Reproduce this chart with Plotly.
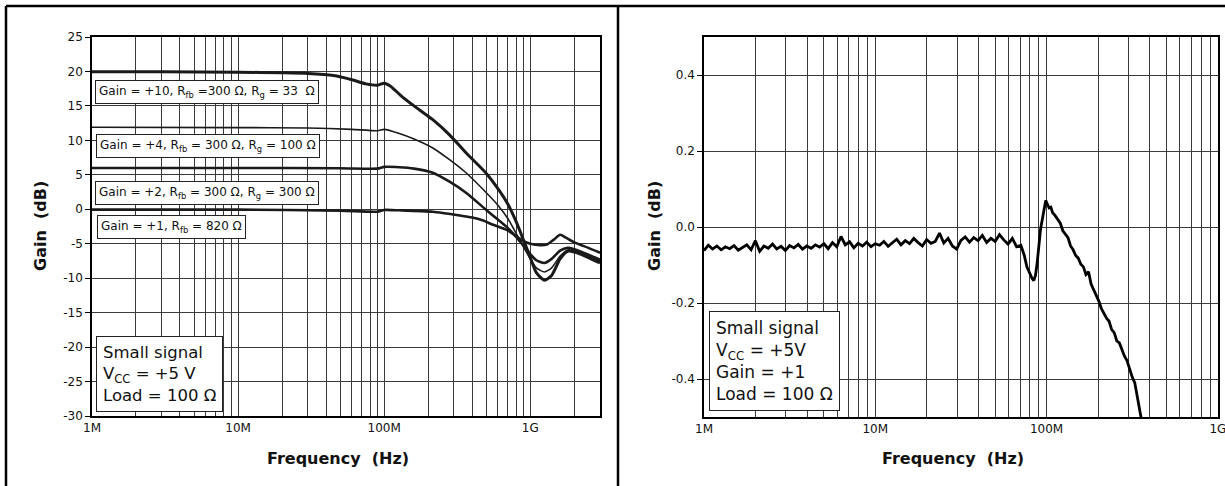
import plotly.graph_objects as go

# ---------------- Left chart data (frequency in Hz, gain in dB) ----------------
G10_F = [1e6, 3e6, 10e6, 20e6, 30e6, 45e6, 60e6, 75e6, 90e6, 100e6, 110e6, 130e6, 160e6,
         215e6, 280e6, 363e6, 500e6, 600e6, 700e6, 800e6, 900e6, 1.0e9, 1.1e9, 1.25e9,
         1.4e9, 1.6e9, 1.8e9, 2.0e9, 2.5e9, 3.0e9]
G10_DB = [19.95, 19.95, 19.9, 19.8, 19.7, 19.4, 18.8, 18.2, 18.0, 18.3, 17.9, 16.5, 15.0,
          13.0, 10.8, 8.2, 5.2, 3.0, 0.8, -1.8, -4.5, -7.0, -9.2, -10.3,
          -9.6, -7.2, -6.1, -6.2, -7.0, -7.8]

G4_F = [1e6, 10e6, 30e6, 60e6, 90e6, 100e6, 127e6, 160e6, 215e6, 280e6, 363e6, 500e6,
        600e6, 700e6, 800e6, 900e6, 1.0e9, 1.1e9, 1.25e9, 1.4e9, 1.6e9, 1.8e9, 2.0e9,
        2.5e9, 3.0e9]
G4_DB = [11.9, 11.85, 11.8, 11.6, 11.4, 11.6, 11.0, 10.2, 8.9, 7.2, 5.3, 2.4,
         0.6, -1.3, -3.5, -5.5, -7.2, -8.5, -9.1, -8.5, -6.8, -5.9, -6.0,
         -6.8, -7.5]

G2_F = [1e6, 10e6, 50e6, 90e6, 100e6, 127e6, 160e6, 215e6, 280e6, 363e6, 500e6, 600e6,
        700e6, 800e6, 900e6, 1.0e9, 1.1e9, 1.25e9, 1.4e9, 1.6e9, 1.8e9, 2.0e9, 2.5e9, 3.0e9]
G2_DB = [6.0, 6.0, 5.95, 5.9, 6.15, 6.1, 5.9, 5.3, 4.0, 2.4, -0.1, -1.5,
         -2.7, -4.0, -5.3, -6.5, -7.4, -7.8, -7.2, -6.0, -5.6, -5.8, -6.6, -7.3]

G1_F = [1e6, 10e6, 50e6, 90e6, 100e6, 127e6, 215e6, 330e6, 400e6, 470e6, 550e6, 690e6,
        800e6, 880e6, 1.0e9, 1.17e9, 1.3e9, 1.45e9, 1.6e9, 1.75e9, 2.0e9, 2.5e9, 3.0e9]
G1_DB = [-0.05, -0.05, -0.2, -0.35, -0.1, -0.15, -0.35, -0.9, -1.2, -1.6, -2.2, -3.0,
         -3.9, -4.5, -5.0, -5.2, -5.1, -4.4, -3.7, -4.1, -4.8, -5.6, -6.3]

LEFT_LABELS = [
    "Gain = +10, R<sub>fb</sub> =300 Ω, R<sub>g</sub> = 33  Ω",
    "Gain = +4, R<sub>fb</sub> = 300 Ω, R<sub>g</sub> = 100 Ω",
    "Gain = +2, R<sub>fb</sub> = 300 Ω, R<sub>g</sub> = 300 Ω",
    "Gain = +1, R<sub>fb</sub> = 820 Ω",
]
LEFT_NOTE = "Small signal<br>V<sub>CC</sub> = +5 V<br>Load = 100 Ω"

LEFT_YTICKS = [25, 20, 15, 10, 5, 0, -5, -10, -15, -20, -25, -30]

# ---------------- Right chart data (log10 of frequency in Hz, gain in dB) ----------------
R_LOGF = [6.000, 6.025, 6.050, 6.075, 6.100, 6.125, 6.150, 6.175, 6.200, 6.225, 6.250, 6.275,
          6.300, 6.325, 6.350, 6.375, 6.400, 6.425, 6.450, 6.475, 6.500, 6.525, 6.550, 6.575,
          6.600, 6.625, 6.650, 6.675, 6.700, 6.725, 6.750, 6.775, 6.800, 6.825, 6.850, 6.875,
          6.900, 6.925, 6.950, 6.975, 7.000, 7.025, 7.050, 7.075, 7.100, 7.125, 7.150, 7.175,
          7.200, 7.225, 7.250, 7.275, 7.300, 7.325, 7.350, 7.375, 7.400, 7.425, 7.450, 7.475,
          7.500, 7.525, 7.550, 7.575, 7.600, 7.625, 7.650, 7.675, 7.700, 7.725, 7.750, 7.775,
          7.800, 7.825, 7.850, 7.870, 7.885, 7.900, 7.915, 7.925, 7.935, 7.945, 7.955, 7.965,
          7.975, 7.985, 7.995, 8.005, 8.015, 8.025, 8.035, 8.050, 8.065, 8.080, 8.095, 8.110,
          8.125, 8.140, 8.155, 8.170, 8.185, 8.200, 8.215, 8.230, 8.245, 8.260, 8.275, 8.290,
          8.305, 8.320, 8.335, 8.350, 8.365, 8.380, 8.395, 8.410, 8.425, 8.440, 8.455, 8.470,
          8.485, 8.500, 8.515, 8.530, 8.540, 8.555]
R_DB = [-0.062, -0.048, -0.058, -0.050, -0.060, -0.052, -0.057, -0.049, -0.061, -0.053, -0.047, -0.060,
        -0.036, -0.064, -0.050, -0.056, -0.045, -0.058, -0.051, -0.062, -0.049, -0.055, -0.046, -0.058,
        -0.050, -0.056, -0.047, -0.053, -0.044, -0.057, -0.041, -0.052, -0.025, -0.047, -0.039, -0.055,
        -0.043, -0.050, -0.040, -0.052, -0.044, -0.048, -0.038, -0.051, -0.042, -0.032, -0.047, -0.036,
        -0.044, -0.030, -0.041, -0.050, -0.033, -0.043, -0.038, -0.016, -0.042, -0.030, -0.050, -0.058,
        -0.035, -0.026, -0.040, -0.028, -0.036, -0.022, -0.041, -0.030, -0.038, -0.020, -0.034, -0.045,
        -0.030, -0.052, -0.048, -0.075, -0.105, -0.122, -0.135, -0.141, -0.128, -0.095, -0.040, -0.005,
        0.020, 0.045, 0.070, 0.060, 0.050, 0.052, 0.038, 0.030, 0.018, 0.010, -0.010, -0.020,
        -0.028, -0.050, -0.060, -0.075, -0.082, -0.098, -0.105, -0.125, -0.118, -0.150, -0.165, -0.178,
        -0.195, -0.215, -0.228, -0.240, -0.248, -0.270, -0.278, -0.300, -0.305, -0.325, -0.340, -0.352,
        -0.375, -0.395, -0.410, -0.450, -0.475, -0.510]
R_FREQ = [10 ** e for e in R_LOGF]

RIGHT_NOTE = "Small signal<br>V<sub>CC</sub> = +5V<br>Gain = +1<br>Load = 100 Ω"
RIGHT_YTICKS = [0.4, 0.2, 0.0, -0.2, -0.4]
RIGHT_YTEXT = ["0.4", "0.2", "0.0", "-0.2", "-0.4"]

X_MAJOR = [1e6, 1e7, 1e8, 1e9]
X_LABELS = ["1M", "10M", "100M", "1G"]

# ---------------- Figure ----------------
W, H = 1225, 486
FONT = "DejaVu Sans, Liberation Sans, Arial, sans-serif"
INK = "#1a1a1a"
GRID = "#3a3a3a"


def px(x):
    return x / W


def py(y):
    return 1 - y / H


def minor_vals(last_val):
    vals = []
    for dec in range(6, 10):
        for k in range(2, 10):
            v = k * 10 ** dec
            if v <= last_val * 1.0001:
                vals.append(v)
    return vals


fig = go.Figure()

curves = [(G10_F, G10_DB, 3.0), (G4_F, G4_DB, 1.6), (G2_F, G2_DB, 2.6), (G1_F, G1_DB, 2.6)]
for f, g, w in curves:
    fig.add_trace(go.Scatter(x=f, y=g, mode="lines", xaxis="x", yaxis="y",
                             line=dict(color=INK, width=w, shape="spline", smoothing=0.6),
                             showlegend=False, hoverinfo="skip"))

fig.add_trace(go.Scatter(x=R_FREQ, y=R_DB, mode="lines", xaxis="x2", yaxis="y2",
                         line=dict(color="#000", width=2.8), showlegend=False,
                         hoverinfo="skip"))

axis_common = dict(showline=True, linecolor="#000", linewidth=1.5, mirror=True,
                   showgrid=True, gridcolor=GRID, gridwidth=1, zeroline=False,
                   automargin=False,
                   tickfont=dict(family=FONT, size=12, color="#111"))


def xaxis_def(domain, rng, last, anchor):
    return dict(domain=domain, type="log", range=rng, tickmode="array",
                tickvals=X_MAJOR, ticktext=X_LABELS, ticks="", anchor=anchor,
                ticklabeloverflow="allow",
                minor=dict(tickmode="array", tickvals=minor_vals(last), showgrid=True,
                           gridcolor=GRID, gridwidth=1, ticks=""),
                **axis_common)


fig.update_layout(
    width=W, height=H,
    template="none",
    margin=dict(l=0, r=0, t=0, b=0, pad=0, autoexpand=False),
    paper_bgcolor="white", plot_bgcolor="white",
    font=dict(family=FONT, color="#111"),
    xaxis=xaxis_def([px(92), px(600)], [6, 9.4771], 3e9, "y"),
    yaxis=dict(domain=[py(416), py(37)], range=[-30, 25], tickmode="array",
               tickvals=LEFT_YTICKS, ticktext=[str(v) for v in LEFT_YTICKS],
               ticks="outside", ticklen=5, tickcolor="#000", anchor="x", **axis_common),
    xaxis2=xaxis_def([px(704), px(1218)], [6, 9.0008], 1e9, "y2"),
    yaxis2=dict(domain=[py(417), py(37)], range=[-0.5, 0.5], tickmode="array",
                tickvals=RIGHT_YTICKS, ticktext=RIGHT_YTEXT,
                ticks="outside", ticklen=5, tickcolor="#000", anchor="x2", **axis_common),
)

annotations = []
box_tops = [80, 134, 181, 215]
box_lefts = [95, 96, 95, 97]
for label, top, left in zip(LEFT_LABELS, box_tops, box_lefts):
    annotations.append(dict(text=label, xref="paper", yref="paper", x=px(left), y=py(top),
                            xanchor="left", yanchor="top", showarrow=False, align="left",
                            font=dict(family=FONT, size=12, color="#111"),
                            bgcolor="white", bordercolor="#222", borderwidth=1, borderpad=3))

annotations.append(dict(text=LEFT_NOTE, xref="paper", yref="paper", x=px(96), y=py(412),
                        xanchor="left", yanchor="bottom", showarrow=False, align="left",
                        font=dict(family=FONT, size=16.5, color="#111"),
                        bgcolor="white", bordercolor="#222", borderwidth=1, borderpad=6))
annotations.append(dict(text=RIGHT_NOTE, xref="paper", yref="paper", x=px(709), y=py(411),
                        xanchor="left", yanchor="bottom", showarrow=False, align="left",
                        font=dict(family=FONT, size=17, color="#111"),
                        bgcolor="white", bordercolor="#222", borderwidth=1, borderpad=6))

title_font = dict(family=FONT, size=16, color="#111")
for cx in (338, 953):
    annotations.append(dict(text="<b>Frequency  (Hz)</b>", xref="paper", yref="paper",
                            x=px(cx), y=py(458), xanchor="center", yanchor="middle",
                            showarrow=False, font=title_font))
for cx in (40, 654):
    annotations.append(dict(text="<b>Gain  (dB)</b>", xref="paper", yref="paper",
                            x=px(cx), y=py(226), xanchor="center", yanchor="middle",
                            textangle=-90, showarrow=False, font=title_font))

fig.update_layout(annotations=annotations)

# outer frame lines (left, top, divider)
frame = dict(type="line", xref="paper", yref="paper", line=dict(color="#000", width=2.5))
fig.update_layout(shapes=[
    dict(frame, x0=px(6), x1=px(6), y0=0, y1=py(6)),
    dict(frame, x0=px(6), x1=1, y0=py(6), y1=py(6)),
    dict(frame, x0=px(618), x1=px(618), y0=0, y1=py(6)),
])

# remove the browser's default page margin so the figure starts at the window corner
fig.write_html("out.html",
               config={"displayModeBar": False},
               post_script="document.body.style.margin='0px';document.body.style.overflow='hidden';")
